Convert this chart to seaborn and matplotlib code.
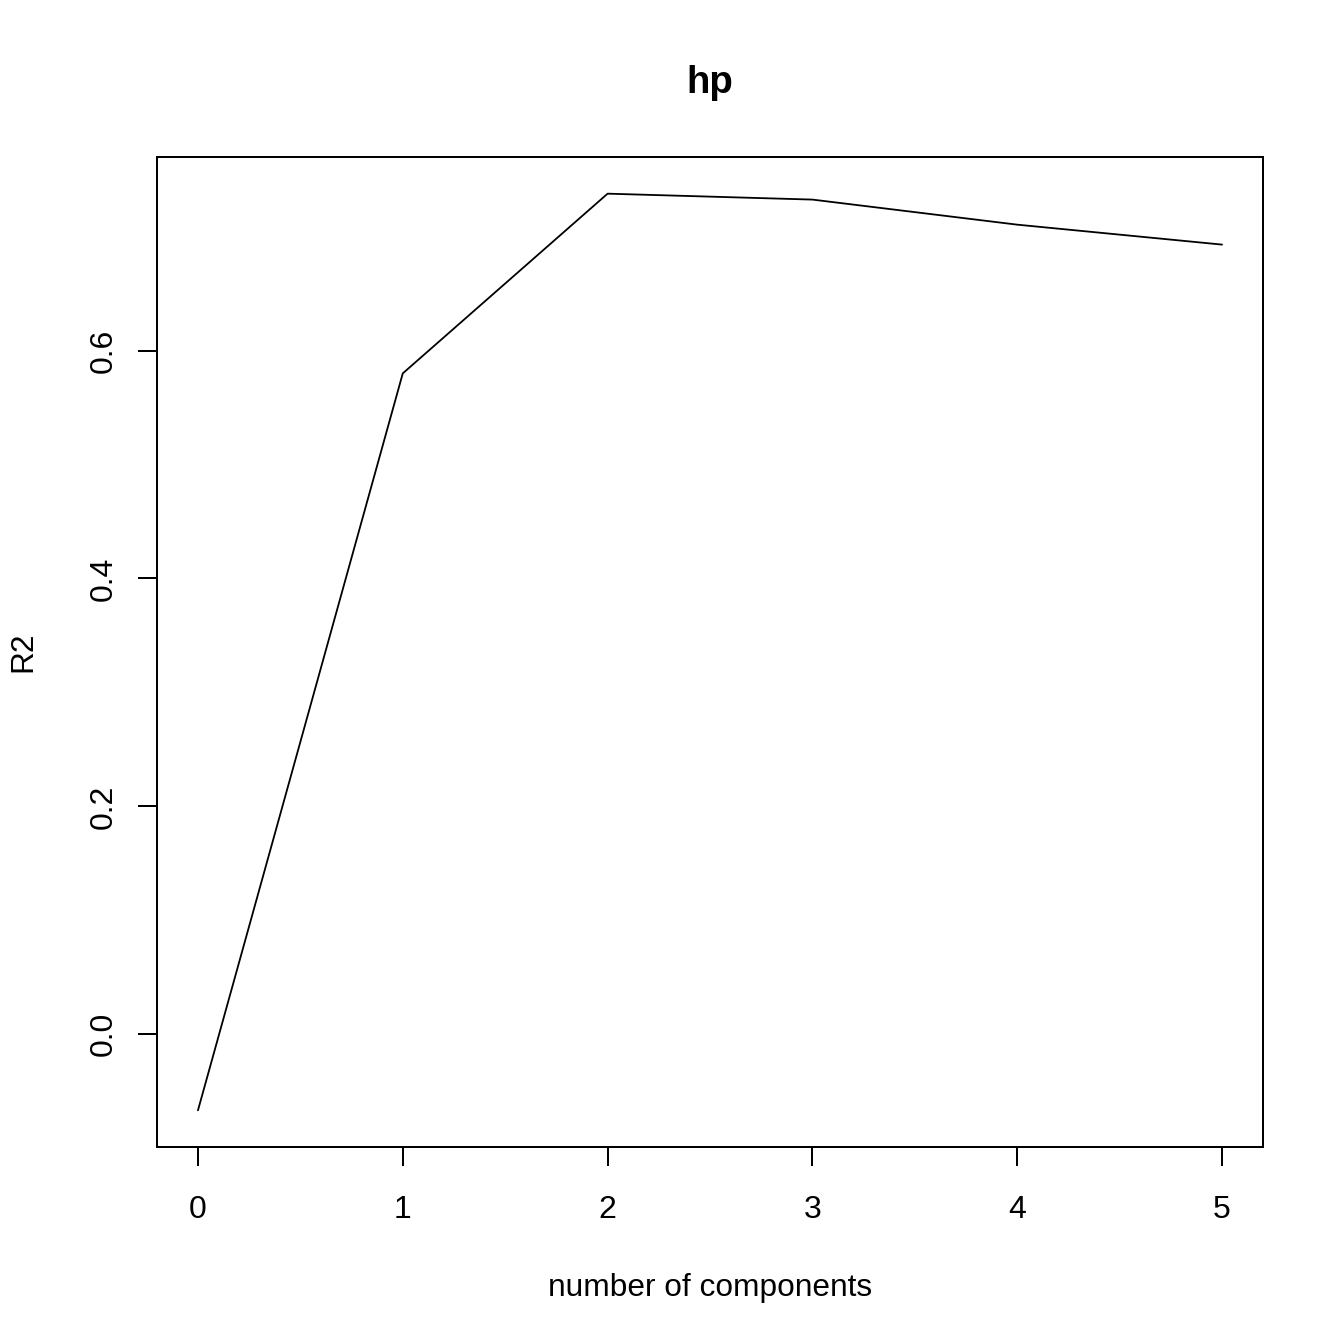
import matplotlib
matplotlib.use("Agg")
import matplotlib.pyplot as plt
import seaborn as sns
import pandas as pd

components = [0, 1, 2, 3, 4, 5]
r2_values = [-0.0667, 0.580, 0.7377, 0.7325, 0.7105, 0.693]
x_ticks = [0, 1, 2, 3, 4, 5]
y_ticks = [0.0, 0.2, 0.4, 0.6]
y_tick_labels = ["0.0", "0.2", "0.4", "0.6"]

sns.set_style("ticks")
plt.rcParams['font.family'] = ['Liberation Sans', 'DejaVu Sans']
plt.rcParams['text.color'] = 'black'
plt.rcParams['axes.labelcolor'] = 'black'

df = pd.DataFrame({"ncomp": components, "R2": r2_values})

fig = plt.figure(figsize=(13.44, 13.44), dpi=100)
ax = fig.add_axes([157/1344, 1 - 1147/1344, (1263-157)/1344, (1147-157)/1344])
sns.lineplot(data=df, x="ncomp", y="R2", ax=ax, color="black", linewidth=1.3)

rng = max(r2_values) - min(r2_values)
ax.set_ylim(min(r2_values) - 0.04*rng, max(r2_values) + 0.04*rng)
ax.set_xlim(-0.2, 5.2)
ax.set_xticks(x_ticks)
ax.set_xticklabels([str(t) for t in x_ticks])
ax.set_yticks(y_ticks)
ax.set_yticklabels(y_tick_labels, rotation=90, va="center")

for s in ax.spines.values():
    s.set_visible(True)
    s.set_linewidth(1.44)
    s.set_color("black")

ax.tick_params(axis="both", length=13.8, width=1.44, color="black", labelsize=23, labelcolor="black")
ax.tick_params(axis="x", pad=20.5)
ax.tick_params(axis="y", pad=14)
ax.set_xlabel("number of components", fontsize=22.8, labelpad=34.5, color="black")
ax.set_ylabel("R2", fontsize=22.8, labelpad=36, color="black")
ax.set_title("hp", fontsize=27.6, fontweight="bold", pad=46, color="black")

fig.savefig("out.png", dpi=100, facecolor="white")
